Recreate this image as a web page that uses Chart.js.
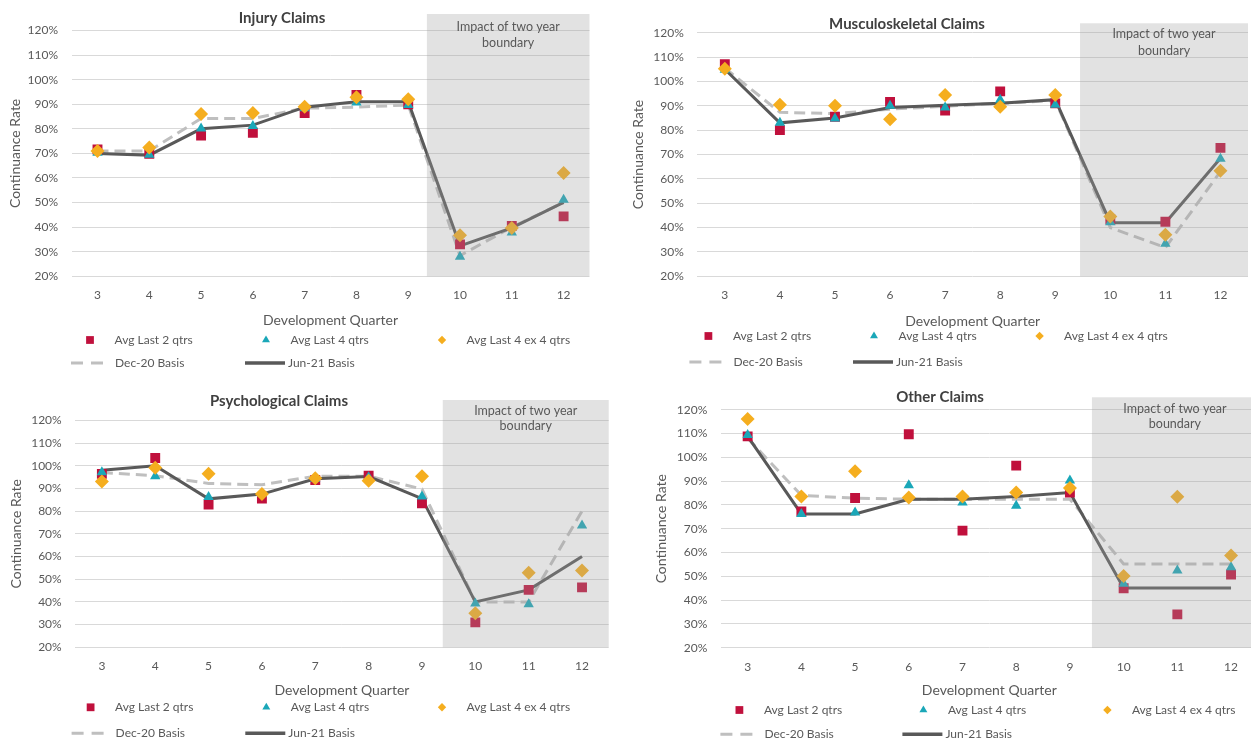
<!DOCTYPE html>
<html>
<head>
<meta charset="utf-8">
<title>Continuance Rates by Development Quarter</title>
<script src="https://cdn.jsdelivr.net/npm/chart.js@4/dist/chart.umd.min.js"></script>
<style>
  html, body { margin: 0; padding: 0; background: #ffffff; overflow: hidden; width: 1251px; height: 741px; }
  canvas { position: absolute; }
</style>
</head>
<body>
<canvas id="injury"></canvas>
<canvas id="musculo"></canvas>
<canvas id="psych"></canvas>
<canvas id="other"></canvas>
<script>
// ---- Data -------------------------------------------------------------
const quarters = ['3', '4', '5', '6', '7', '8', '9', '10', '11', '12'];
const seriesNames = ['Avg Last 2 qtrs', 'Avg Last 4 qtrs', 'Avg Last 4 ex 4 qtrs', 'Dec-20 Basis', 'Jun-21 Basis'];
const yTicks = { min: 20, max: 120, step: 10 };
const boundaryText = ['Impact of two year', 'boundary'];
const boundaryFrom = [9.36, 9.45, 9.39, 9.41];   // quarter where the shaded zone starts, per panel

// Injury Claims (%)
const injuryAvg2  = [71.6, 69.8, 77.3, 78.4, 86.4, 93.8, 90.0, 33.0, 40.5, 44.4];
const injuryAvg4  = [70.3, 69.5, 80.1, 81.1, 88.4, 90.7, 89.7, 28.0, 37.8, 51.1];
const injuryEx4   = [71.0, 72.4, 86.0, 86.4, 89.0, 92.8, 92.0, 36.7, 39.7, 62.0];
const injuryDec20 = [71.0, 71.0, 84.2, 84.2, 88.4, 88.8, 89.7, 28.4, 40.0, 50.0];
const injuryJun21 = [70.0, 69.3, 80.0, 81.5, 88.8, 91.0, 91.0, 32.4, 39.7, 50.1];

// Musculoskeletal Claims (%)
const muscAvg2  = [107.1, 80.0, 85.5, 91.6, 88.0, 95.9, 91.0, 43.3, 42.4, 72.7];
const muscAvg4  = [104.8, 83.0, 84.8, 90.0, 89.3, 92.5, 90.4, 42.2, 33.4, 68.3];
const muscEx4   = [105.2, 90.4, 90.0, 84.5, 94.4, 89.6, 94.4, 44.5, 37.1, 63.3];
const muscDec20 = [105.5, 87.3, 86.8, 88.6, 89.8, 91.0, 92.2, 40.0, 31.8, 63.0];
const muscJun21 = [105.0, 83.0, 85.0, 89.3, 90.2, 91.0, 92.5, 42.0, 42.0, 68.5];

// Psychological Claims (%)
const psychAvg2  = [96.4, 103.4, 82.9, 85.5, 93.7, 95.6, 83.4, 31.0, 45.3, 46.4];
const psychAvg4  = [97.1, 95.4, 86.2, 87.8, 94.2, 94.9, 86.4, 39.3, 39.0, 73.7];
const psychEx4   = [93.0, 99.1, 96.4, 87.5, 94.5, 93.4, 95.4, 35.0, 52.8, 53.8];
const psychDec20 = [97.0, 95.6, 92.2, 91.6, 95.4, 95.4, 89.7, 40.0, 40.0, 80.0];
const psychJun21 = [98.0, 100.0, 85.4, 87.5, 94.2, 95.2, 85.5, 40.0, 45.3, 60.0];

// Other Claims (%)
const otherAvg2  = [108.8, 77.2, 82.9, 109.7, 69.2, 96.5, 85.2, 45.0, 34.0, 50.7];
const otherAvg4  = [109.4, 76.2, 76.8, 88.3, 81.0, 79.6, 90.3, 46.9, 52.4, 53.8];
const otherEx4   = [116.1, 83.5, 94.1, 83.1, 83.5, 85.2, 87.1, 50.1, 83.4, 58.7];
const otherDec20 = [108.0, 84.0, 82.8, 82.4, 82.4, 82.4, 82.4, 55.2, 55.2, 55.2];
const otherJun21 = [108.8, 76.2, 76.2, 82.4, 82.4, 83.5, 85.2, 45.1, 45.1, 45.1];

// ---- Styling ----------------------------------------------------------
const FONT = "Lato, 'Noto Sans', sans-serif";
const TEXT = '#595959';
const GRID = '#d9d9d9';
const COLORS = { avg2: '#c0103c', avg4: '#1aa7b8', ex4: '#f5ae1f', dec20: '#bfbfbf', jun21: '#595959' };

// Page placement of each panel: canvas box, plot area, and decoration anchors (page px)
const panels = [
  { id: 'injury', title: 'Injury Claims', series: [injuryAvg2, injuryAvg4, injuryEx4, injuryDec20, injuryJun21],
    box: { x: 0, y: 0, w: 600, h: 378 }, area: { l: 71.6, t: 30.5, r: 589.5, b: 276.3 },
    titleAt: { x: 282, y: 18 }, bandTop: 14, bandText: [26.7, 42.7], yTitleX: 15, xTitleY: 320,
    legend: { x: 90, y1: 340, y2: 363, step: 176 } },
  { id: 'musculo', title: 'Musculoskeletal Claims', series: [muscAvg2, muscAvg4, muscEx4, muscDec20, muscJun21],
    box: { x: 625, y: 0, w: 630, h: 378 }, area: { l: 697.3, t: 32.7, r: 1250.7, b: 276.3 },
    titleAt: { x: 907, y: 24 }, bandTop: 23.3, bandText: [34.3, 50.7], yTitleX: 638, xTitleY: 321,
    legend: { x: 708.4, y1: 336, y2: 362, step: 165.6 } },
  { id: 'psych', title: 'Psychological Claims', series: [psychAvg2, psychAvg4, psychEx4, psychDec20, psychJun21],
    box: { x: 0, y: 378, w: 620, h: 363 }, area: { l: 75.2, t: 420.3, r: 608.7, b: 647.3 },
    titleAt: { x: 279, y: 400.7 }, bandTop: 400, bandText: [410.7, 425.7], yTitleX: 16, xTitleY: 690,
    legend: { x: 90.6, y1: 707.3, y2: 733.3, step: 175.7 } },
  { id: 'other', title: 'Other Claims', series: [otherAvg2, otherAvg4, otherEx4, otherDec20, otherJun21],
    box: { x: 640, y: 378, w: 625, h: 363 }, area: { l: 720.8, t: 409.7, r: 1257.9, b: 647.7 },
    titleAt: { x: 940, y: 396.7 }, bandTop: 397.3, bandText: [409, 424.3], yTitleX: 661.5, xTitleY: 690,
    legend: { x: 739.4, y1: 710, y2: 734.3, step: 184 } }
];

// ---- Decorations: shaded boundary zone, panel title, legend --------------
const panelDecor = {
  id: 'panelDecor',
  afterDatasetsDraw(chart, args, o) {
    const { ctx, chartArea, scales } = chart;
    const x0 = scales.x.getPixelForValue(o.bandFrom - Number(quarters[0]));
    ctx.save();
    ctx.fillStyle = 'rgba(160,160,160,0.3)';
    ctx.fillRect(x0, o.bandTop, chartArea.right - x0, chartArea.bottom - o.bandTop);
    ctx.fillStyle = TEXT;
    ctx.font = '12.5px ' + FONT;
    ctx.textAlign = 'center';
    ctx.textBaseline = 'middle';
    const cx = (x0 + chartArea.right) / 2;
    boundaryText.forEach((t, i) => ctx.fillText(t, cx, o.bandText[i]));
    ctx.restore();
  },
  afterDraw(chart, args, o) {
    const { ctx } = chart;
    ctx.save();
    // title
    ctx.fillStyle = '#404040';
    ctx.font = 'bold 15px ' + FONT;
    ctx.textAlign = 'center';
    ctx.textBaseline = 'middle';
    ctx.fillText(o.title, o.titleX, o.titleY);
    // legend
    const L = o.legend;
    const ds = chart.data.datasets;
    const sizes = [5.5, 4.6, 4.2];
    ctx.font = '12px ' + FONT;
    ctx.textAlign = 'left';
    for (let i = 0; i < 3; i++) {
      const mx = L.x + i * L.step;
      ctx.fillStyle = ds[i].backgroundColor;
      Chart.helpers.drawPoint(ctx, { pointStyle: ds[i].pointStyle, radius: sizes[i], rotation: 0, borderWidth: 0 }, mx, L.y1);
      ctx.fillStyle = TEXT;
      ctx.fillText(ds[i].label, mx + 24.5, L.y1);
    }
    // line symbols
    const d = ds[3], s = ds[4];
    ctx.lineWidth = 3;
    ctx.strokeStyle = d.borderColor;
    ctx.setLineDash([12, 8]);
    ctx.beginPath(); ctx.moveTo(L.x - 19, L.y2); ctx.lineTo(L.x + 14, L.y2); ctx.stroke();
    ctx.setLineDash([]);
    ctx.fillStyle = TEXT;
    ctx.fillText(d.label, L.x + 25, L.y2);
    const sx = L.x + L.step;
    ctx.lineWidth = 3.5;
    ctx.strokeStyle = s.borderColor;
    ctx.beginPath(); ctx.moveTo(sx - 21, L.y2); ctx.lineTo(sx + 19, L.y2); ctx.stroke();
    ctx.fillText(s.label, sx + 22, L.y2);
    ctx.restore();
  }
};

function buildChart(p, idx) {
  const cv = document.getElementById(p.id);
  cv.width = p.box.w; cv.height = p.box.h;
  cv.style.left = p.box.x + 'px'; cv.style.top = p.box.y + 'px';
  const rel = (vx, vy) => ({ x: vx - p.box.x, y: vy - p.box.y });
  const markers = [
    { key: 'avg2', style: 'rect', r: 7, order: 2 },
    { key: 'avg4', style: 'triangle', r: 6, order: 1 },
    { key: 'ex4', style: 'rectRot', r: 7, order: 0 }
  ];
  const datasets = markers.map((m, i) => ({
    label: seriesNames[i], data: p.series[i], showLine: false, order: m.order,
    pointStyle: m.style, pointRadius: m.r, pointHoverRadius: m.r,
    backgroundColor: COLORS[m.key], borderColor: COLORS[m.key], pointBorderWidth: 0
  }));
  datasets.push({
    label: seriesNames[3], data: p.series[3], order: 4, borderColor: COLORS.dec20, backgroundColor: COLORS.dec20,
    borderWidth: 3, borderDash: [11, 6], pointRadius: 0, tension: 0
  });
  datasets.push({
    label: seriesNames[4], data: p.series[4], order: 3, borderColor: COLORS.jun21, backgroundColor: COLORS.jun21,
    borderWidth: 3, pointRadius: 0, tension: 0
  });
  const t = rel(p.titleAt.x, p.titleAt.y);
  new Chart(cv, {
    type: 'line',
    data: { labels: quarters, datasets },
    options: {
      responsive: false, animation: false, events: [],
      layout: { padding: { left: 0, top: p.area.t - p.box.y, right: p.box.x + p.box.w - p.area.r, bottom: 0 } },
      plugins: {
        legend: { display: false }, tooltip: { enabled: false },
        panelDecor: {
          title: p.title, titleX: t.x, titleY: t.y,
          bandFrom: boundaryFrom[idx], bandTop: p.bandTop - p.box.y,
          bandText: p.bandText.map(v => v - p.box.y),
          legend: { x: p.legend.x - p.box.x, y1: p.legend.y1 - p.box.y, y2: p.legend.y2 - p.box.y, step: p.legend.step }
        }
      },
      scales: {
        x: {
          type: 'category', offset: true,
          grid: { display: false, drawTicks: false }, border: { display: false },
          ticks: { color: TEXT, font: { family: FONT, size: 12 }, padding: 12, maxRotation: 0, autoSkip: false },
          title: { display: true, text: 'Development Quarter', color: TEXT, font: { family: FONT, size: 14 },
                   padding: { top: 0, bottom: (p.box.y + p.box.h) - p.xTitleY - 8.4 } },
          afterFit: (s) => { s.height = p.box.y + p.box.h - p.area.b; }
        },
        y: {
          min: yTicks.min, max: yTicks.max,
          grid: { color: GRID, lineWidth: 1, drawTicks: false }, border: { display: false },
          ticks: { stepSize: yTicks.step, color: TEXT, font: { family: FONT, size: 12 }, padding: 13.5,
                   callback: (v) => v + '%' },
          title: { display: true, text: 'Continuance Rate', color: TEXT, font: { family: FONT, size: 14 },
                   padding: { top: p.yTitleX - p.box.x - 8.4, bottom: 0 } },
          afterFit: (s) => { s.width = p.area.l - p.box.x; }
        }
      }
    },
    plugins: [panelDecor]
  });
}

panels.forEach(buildChart);
</script>
</body>
</html>
